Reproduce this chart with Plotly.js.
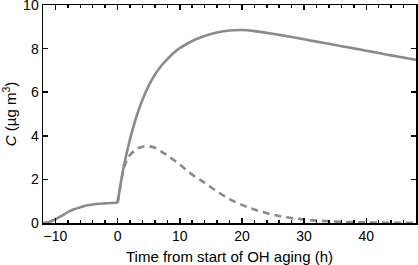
<!DOCTYPE html>
<html>
<head>
<meta charset="utf-8">
<script src="https://cdn.plot.ly/plotly-3.0.1.min.js"></script>
<style>html,body{margin:0;padding:0;background:#fff;}#chart{width:418px;height:265px;}</style>
</head>
<body>
<div id="chart"></div>
<script>
// Time (h) and concentration (µg m^3)
const timePre = [-12, -11, -10, -9, -8, -7, -6, -5, -4, -3, -2, -1, 0];
const concPre = [0, 0.05, 0.17, 0.33, 0.5, 0.63, 0.72, 0.8, 0.85, 0.88, 0.9, 0.92, 0.93];

const timePost = [0, 1, 2, 3, 4, 5, 6, 7, 8, 9, 10, 12, 14, 16, 18, 20, 22, 24, 26, 28, 30, 32, 34, 36, 38, 40, 42, 44, 46, 48];
const concPost = [0.93, 2.6, 3.85, 4.85, 5.65, 6.3, 6.8, 7.2, 7.52, 7.8, 8.02, 8.35, 8.58, 8.74, 8.83, 8.85, 8.8, 8.72, 8.63, 8.53, 8.43, 8.32, 8.22, 8.11, 8.01, 7.9, 7.8, 7.69, 7.59, 7.48];

const timeDash = [0, 1, 1.5, 2, 3, 4, 5, 6, 7, 8, 10, 12, 14, 16, 18, 20, 22, 24, 26, 28, 30, 32, 34, 36, 38, 40, 42, 44, 46, 48];
const concDash = [0.93, 2.5, 2.9, 3.12, 3.38, 3.5, 3.52, 3.45, 3.28, 3.1, 2.68, 2.22, 1.85, 1.45, 1.1, 0.83, 0.62, 0.45, 0.32, 0.23, 0.16, 0.11, 0.08, 0.05, 0.04, 0.03, 0.02, 0.01, 0.01, 0.01];

const xTickVals = [-10, 0, 10, 20, 30, 40];
const xMinorStep = 2;
const yTickVals = [0, 2, 4, 6, 8, 10];

const lineColor = '#8a8a8a';
const fam = 'Arial';
const traces = [
  {x: timePre, y: concPre, mode: 'lines', line: {color: lineColor, width: 2.6, shape: 'spline'}},
  {x: timeDash, y: concDash, mode: 'lines', line: {color: lineColor, width: 2.6, dash: '7px,5px', shape: 'spline'}},
  {x: timePost, y: concPost, mode: 'lines', line: {color: lineColor, width: 2.6, shape: 'spline'}}
];

const layout = {
  width: 418, height: 265,
  margin: {l: 43, r: 2, t: 5, b: 42},
  showlegend: false,
  xaxis: {
    range: [-12, 48], tickmode: 'linear', tick0: xTickVals[1], dtick: xTickVals[2] - xTickVals[1],
    ticks: 'inside', ticklen: 5, tickwidth: 1.5, tickcolor: 'black',
    minor: {dtick: xMinorStep, ticks: 'inside', ticklen: 3, tickcolor: 'black'},
    showline: true, linecolor: 'black', linewidth: 1.5, mirror: 'allticks', showgrid: false, zeroline: false,
    tickfont: {family: fam, size: 14, color: 'black'},
    title: {text: 'Time from start of OH aging (h)', font: {family: fam, size: 15, color: 'black'}}
  },
  yaxis: {
    range: [0, 10], tickmode: 'linear', tick0: yTickVals[0], dtick: yTickVals[1] - yTickVals[0],
    ticks: 'inside', ticklen: 5, tickwidth: 1.5, tickcolor: 'black',
    showline: true, linecolor: 'black', linewidth: 1.5, mirror: 'allticks', showgrid: false, zeroline: false,
    ticklabeloverflow: 'allow',
    tickfont: {family: fam, size: 14, color: 'black'},
    title: {text: '<i>C</i> (µg m<sup>3</sup>)', font: {family: fam, size: 15, color: 'black'}}
  }
};

Plotly.newPlot('chart', traces, layout, {staticPlot: true, displayModeBar: false});
</script>
</body>
</html>
